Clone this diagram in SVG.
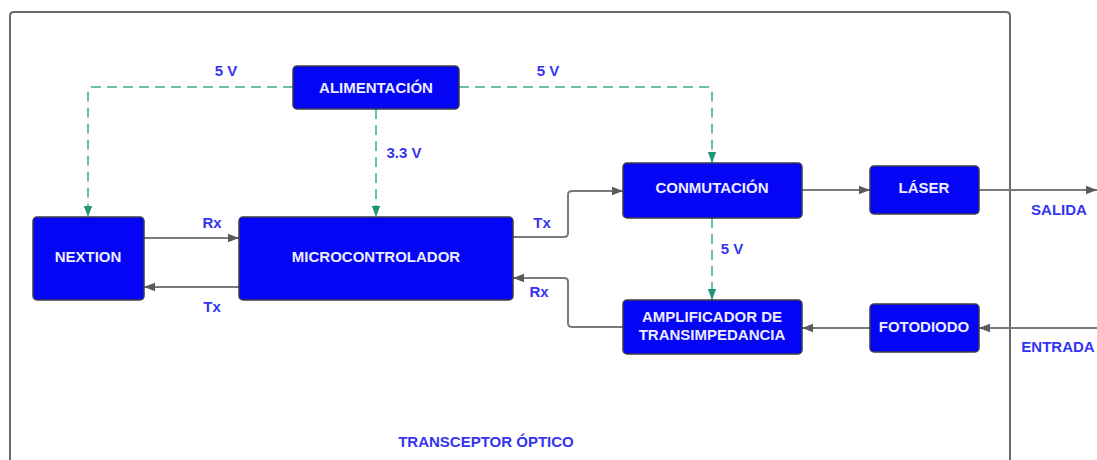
<svg xmlns="http://www.w3.org/2000/svg" width="1097" height="460" viewBox="0 0 1097 460">
<style>
.node{fill:#0505f5;stroke:#3c3c4a;stroke-width:1.5}
.nt{fill:#ececff;font-family:"Liberation Sans",Arial,sans-serif;font-weight:bold;font-size:15px;text-anchor:middle}
.lb{fill:#3434f2;font-family:"Liberation Sans",Arial,sans-serif;font-weight:bold;font-size:15px;text-anchor:middle}
.dash{fill:none;stroke:#6cc2a8;stroke-width:2;stroke-dasharray:10 6;marker-end:url(#ta)}
.line{fill:none;stroke:#7a7a7a;stroke-width:2;marker-end:url(#ga)}
</style>
<defs>
<marker id="ga" markerUnits="userSpaceOnUse" markerWidth="12" markerHeight="10" refX="11" refY="5" orient="auto">
<path d="M0,0.8 L11,5 L0,9.2 Z" fill="#5a5a5a"/>
</marker>
<marker id="ta" markerUnits="userSpaceOnUse" markerWidth="12" markerHeight="10" refX="11" refY="5" orient="auto">
<path d="M0,0.8 L11,5 L0,9.2 Z" fill="#1e9878"/>
</marker>
</defs>
<rect width="1097" height="460" fill="#ffffff"/>
<g id="container">
<path d="M10,460 V16 Q10,12 14,12 H1006 Q1010,12 1010,16 V460" fill="none" stroke="#6a6a6a" stroke-width="2"/>
<text class="lb" x="486" y="447">TRANSCEPTOR ÓPTICO</text>
</g>
<g id="connectors">
<path class="dash" d="M293,87 H92 Q88,87 88,91 V217"/>
<path class="dash" d="M459,87 H708 Q712,87 712,91 V163"/>
<path class="dash" d="M376,109 V217"/>
<path class="dash" d="M712,218 V300"/>
<path class="line" d="M144,238 H239"/>
<path class="line" d="M239,287 H144"/>
<path class="line" d="M513,237 H564 Q568,237 568,233 V195 Q568,191 572,191 H623"/>
<path class="line" d="M623,327 H572 Q568,327 568,323 V282 Q568,278 564,278 H513"/>
<path class="line" d="M802,190 H870"/>
<path class="line" d="M979,190 H1097"/>
<path class="line" d="M1097,328 H979"/>
<path class="line" d="M870,328 H802"/>
<text class="lb" x="226" y="76">5 V</text>
<text class="lb" x="548" y="76">5 V</text>
<text class="lb" x="404" y="158">3.3 V</text>
<text class="lb" x="212" y="228">Rx</text>
<text class="lb" x="212" y="312">Tx</text>
<text class="lb" x="542" y="228">Tx</text>
<text class="lb" x="539" y="297">Rx</text>
<text class="lb" x="732" y="254">5 V</text>
<text class="lb" x="1059" y="215">SALIDA</text>
<text class="lb" x="1058" y="352">ENTRADA</text>
</g>
<g id="alimentacion">
<rect class="node" x="293" y="66" width="166" height="43" rx="4"/>
<text class="nt" x="376" y="93">ALIMENTACIÓN</text>
</g>
<g id="nextion">
<rect class="node" x="33" y="217" width="111" height="83" rx="4"/>
<text class="nt" x="88" y="262">NEXTION</text>
</g>
<g id="microcontrolador">
<rect class="node" x="239" y="217" width="274" height="83" rx="4"/>
<text class="nt" x="376" y="262">MICROCONTROLADOR</text>
</g>
<g id="conmutacion">
<rect class="node" x="623" y="163" width="179" height="55" rx="4"/>
<text class="nt" x="712" y="193">CONMUTACIÓN</text>
</g>
<g id="laser">
<rect class="node" x="870" y="166" width="109" height="48" rx="4"/>
<text class="nt" x="924" y="193">LÁSER</text>
</g>
<g id="amplificador">
<rect class="node" x="623" y="300" width="179" height="54" rx="4"/>
<text class="nt" x="712" y="322">AMPLIFICADOR DE</text>
<text class="nt" x="712" y="340">TRANSIMPEDANCIA</text>
</g>
<g id="fotodiodo">
<rect class="node" x="870" y="304" width="109" height="48" rx="4"/>
<text class="nt" x="924" y="332">FOTODIODO</text>
</g>
</svg>
